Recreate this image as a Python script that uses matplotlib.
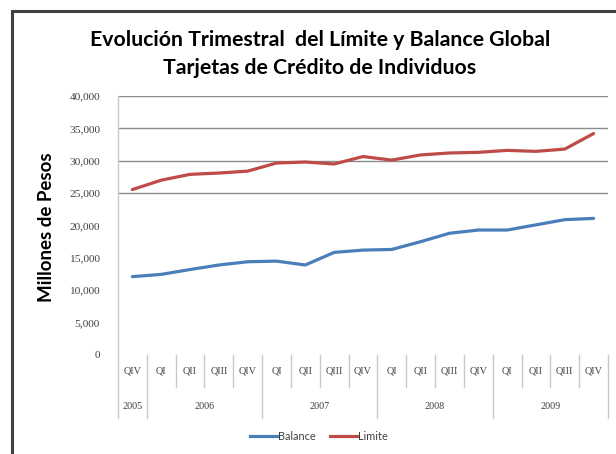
import matplotlib.pyplot as plt
import matplotlib.patches as patches
from matplotlib.ticker import FuncFormatter

quarters = ["QIV", "QI", "QII", "QIII", "QIV", "QI", "QII", "QIII", "QIV",
            "QI", "QII", "QIII", "QIV", "QI", "QII", "QIII", "QIV"]
years = ["2005", "2006", "2007", "2008", "2009"]
year_counts = [1, 4, 4, 4, 4]

balance = [12100, 12450, 13200, 13900, 14400, 14500, 13900, 15850, 16200,
           16300, 17500, 18800, 19300, 19300, 20100, 20900, 21100]
limite = [25550, 27000, 27900, 28100, 28400, 29650, 29800, 29500, 30650,
          30100, 30900, 31200, 31300, 31600, 31450, 31800, 34200]

fig = plt.figure(figsize=(6.16, 4.54), dpi=100)
fig.patch.set_facecolor("white")

# outer chart frame (cut off at right/bottom like the reference)
frame = patches.Rectangle((12 / 616, -0.1), 1.1, 1 - 11 / 454 + 0.1,
                          transform=fig.transFigure, fill=False,
                          edgecolor="#404040", linewidth=2.2)
fig.patches.append(frame)

ax = fig.add_axes([118 / 616, 1 - 355 / 454, 490 / 616, 259 / 454])
x = [i + 0.5 for i in range(len(quarters))]
ax.plot(x, balance, color="#4A7EBB", linewidth=2.3, solid_capstyle="round")
ax.plot(x, limite, color="#BE4B48", linewidth=2.3, solid_capstyle="round")

ax.set_xlim(0, len(quarters))
ax.set_ylim(0, 40000)
ax.set_yticks(range(0, 40001, 5000))
ax.yaxis.set_major_formatter(FuncFormatter(lambda v, p: f"{int(v):,}"))
ax.tick_params(axis="y", length=0, pad=13, labelsize=8.2, labelcolor="#404040")
for lab in ax.get_yticklabels():
    lab.set_fontfamily("Liberation Serif")
ax.set_xticks([])

for gy in [25000, 30000, 35000, 40000]:
    ax.axhline(gy, color="#8C8C8C", linewidth=1.0, zorder=0)

for s in ["top", "right", "bottom", "left"]:
    ax.spines[s].set_visible(False)

trans = ax.get_xaxis_transform()
sep_col = "#C8C8C8"
# left axis line
ax.plot([0, 0], [1, -0.243], transform=trans, color=sep_col, linewidth=1.0, clip_on=False)
year_edges = [0]
for c in year_counts:
    year_edges.append(year_edges[-1] + c)
for k in range(1, len(quarters) + 1):
    bottom = -0.243 if k in year_edges else -0.124
    ax.plot([k, k], [0, bottom], transform=trans, color=sep_col, linewidth=1.0, clip_on=False)

for xi, q in zip(x, quarters):
    ax.text(xi, -0.062, q, transform=trans, ha="center", va="center",
            fontsize=7.3, color="#404040", family="Liberation Serif")
for yr, a, b in zip(years, year_edges[:-1], year_edges[1:]):
    ax.text((a + b) / 2, -0.2, yr, transform=trans, ha="center", va="center",
            fontsize=7.3, color="#404040", family="Liberation Serif")

fig.text(320 / 616, 1 - 40 / 454, "Evolución Trimestral  del Límite y Balance Global",
         ha="center", va="center", fontsize=15.3, fontweight="bold", family="Lato")
fig.text(320 / 616, 1 - 68 / 454, "Tarjetas de Crédito de Individuos",
         ha="center", va="center", fontsize=15.3, fontweight="bold", family="Lato")
fig.text(47 / 616, 1 - 227 / 454, "Millones de Pesos", rotation=90,
         ha="center", va="center", fontsize=13.5, fontweight="bold", family="Lato")

# legend
ly = 1 - 436 / 454
for x0, label, col in [(250, "Balance", "#4A7EBB"), (330, "Limite", "#BE4B48")]:
    fig.lines.append(plt.Line2D([x0 / 616, (x0 + 27) / 616], [ly, ly],
                                transform=fig.transFigure, color=col, linewidth=2.3))
    fig.text((x0 + 28) / 616, ly, label, ha="left", va="center",
             fontsize=7.8, color="#404040", family="Lato")

fig.savefig("out.png", dpi=100)
